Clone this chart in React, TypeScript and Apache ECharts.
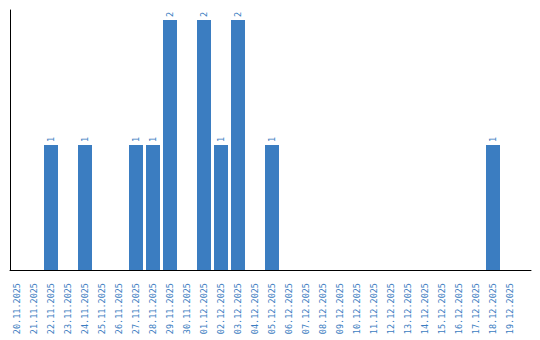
import React, { useEffect, useRef } from "react";
import * as echarts from "echarts";

const categories = [
  "20.11.2025", "21.11.2025", "22.11.2025", "23.11.2025", "24.11.2025",
  "25.11.2025", "26.11.2025", "27.11.2025", "28.11.2025", "29.11.2025",
  "30.11.2025", "01.12.2025", "02.12.2025", "03.12.2025", "04.12.2025",
  "05.12.2025", "06.12.2025", "07.12.2025", "08.12.2025", "09.12.2025",
  "10.12.2025", "11.12.2025", "12.12.2025", "13.12.2025", "14.12.2025",
  "15.12.2025", "16.12.2025", "17.12.2025", "18.12.2025", "19.12.2025",
];

const counts: (number | null)[] = [
  null, null, 1, null, 1,
  null, null, 1, 1, 2,
  null, 2, 1, 2, null,
  1, null, null, null, null,
  null, null, null, null, null,
  null, null, null, 1, null,
];

const BLUE = "#3b7dc1";
const FONT = "DejaVu Sans Mono";

export default function App() {
  const ref = useRef<HTMLDivElement>(null);
  useEffect(() => {
    document.body.style.margin = "0";
    if (!ref.current) return;
    const chart = echarts.init(ref.current, undefined, { renderer: "svg" });
    chart.setOption({
      animation: false,
      grid: [
        { left: 8.5, right: 21.5, top: 10, bottom: 70 },
        { left: 10, right: 9, top: 10, bottom: 70 },
      ],
      xAxis: [
        {
          type: "category",
          gridIndex: 0,
          data: categories,
          axisLine: { show: false },
          axisTick: { show: false },
          axisLabel: {
            interval: 0,
            rotate: 90,
            color: BLUE,
            fontSize: 8.5,
            fontFamily: FONT,
            margin: 13,
          },
        },
        {
          type: "value",
          gridIndex: 1,
          min: 0,
          max: 1,
          axisLine: { show: true, onZero: false, lineStyle: { color: "#000", width: 1 } },
          axisTick: { show: false },
          axisLabel: { show: false },
          splitLine: { show: false },
        },
      ],
      yAxis: [
        {
          type: "value",
          gridIndex: 0,
          min: 0,
          max: 2.08,
          axisLine: { show: false },
          axisTick: { show: false },
          axisLabel: { show: false },
          splitLine: { show: false },
        },
        {
          type: "value",
          gridIndex: 1,
          min: 0,
          max: 1,
          axisLine: { show: true, onZero: false, lineStyle: { color: "#000", width: 1 } },
          axisTick: { show: false },
          axisLabel: { show: false },
          splitLine: { show: false },
        },
      ],
      series: [
        {
          type: "bar",
          xAxisIndex: 0,
          yAxisIndex: 0,
          data: counts,
          barWidth: 14,
          itemStyle: { color: BLUE },
          label: {
            show: true,
            position: "top",
            rotate: 90,
            align: "left",
            verticalAlign: "middle",
            distance: 3,
            color: BLUE,
            fontSize: 8.5,
            fontFamily: FONT,
          },
        },
      ],
    });
    return () => chart.dispose();
  }, []);
  return <div ref={ref} style={{ width: 540, height: 340 }} />;
}
